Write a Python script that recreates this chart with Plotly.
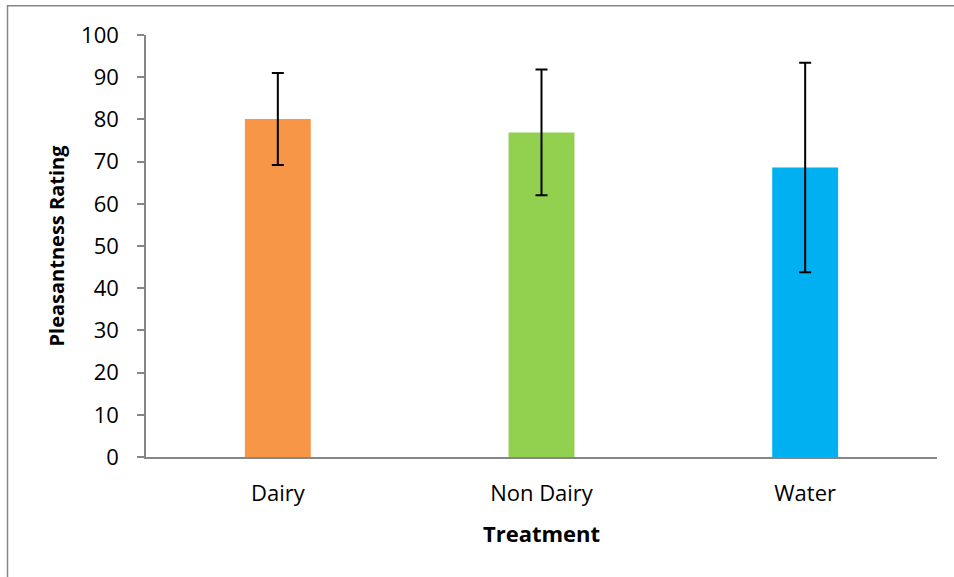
import plotly.graph_objects as go

categories = ["Dairy", "Non Dairy", "Water"]
means = [80.1, 76.9, 68.6]
errors = [10.9, 14.9, 24.8]
colors = ["#F79646", "#92D050", "#00B0F0"]
y_ticks = [0, 10, 20, 30, 40, 50, 60, 70, 80, 90, 100]

FONT = "'Open Sans', Lato, sans-serif"

fig = go.Figure(
    go.Bar(
        x=categories,
        y=means,
        marker=dict(color=colors, line=dict(width=0)),
        width=0.25,
        error_y=dict(type="data", array=errors, visible=True,
                     color="black", thickness=2, width=6),
    )
)

W, H = 954, 577
L, R, T, B = 146, 17, 35.3, 119.5
pw = W - L - R
ph = H - T - B

def px_x(v):
    return (v - L) / pw

def px_y(v):
    return (H - B - v) / ph

fig.add_shape(type="path", xref="paper", yref="paper",
              path=f"M {px_x(7.5)} {px_y(580)} L {px_x(7.5)} {px_y(6)} L {px_x(960)} {px_y(6)}",
              line=dict(color="#868686", width=1.5))

fig.update_layout(
    width=W, height=H,
    margin=dict(l=L, r=R, t=T, b=B),
    plot_bgcolor="white", paper_bgcolor="white",
    showlegend=False,
    font=dict(family=FONT, color="black", size=22),
    xaxis=dict(
        showline=True, linecolor="#868686", linewidth=2,
        ticks="", tickfont=dict(size=22), ticklabelstandoff=16,
        title=dict(text="<b>Treatment</b>", font=dict(size=22), standoff=20),
    ),
    yaxis=dict(
        range=[0, 100], tickvals=y_ticks,
        showline=True, linecolor="#868686", linewidth=1.5,
        ticks="outside", ticklen=7, tickcolor="#868686", tickwidth=1.5,
        showgrid=False, zeroline=False,
        tickfont=dict(size=22), ticklabelstandoff=14,
        title=dict(text="<b>Pleasantness Rating</b>", font=dict(size=20), standoff=11),
    ),
)

fig.write_html("out.html", config={"displayModeBar": False},
               post_script="document.body.style.margin='0';document.body.style.padding='0';")
